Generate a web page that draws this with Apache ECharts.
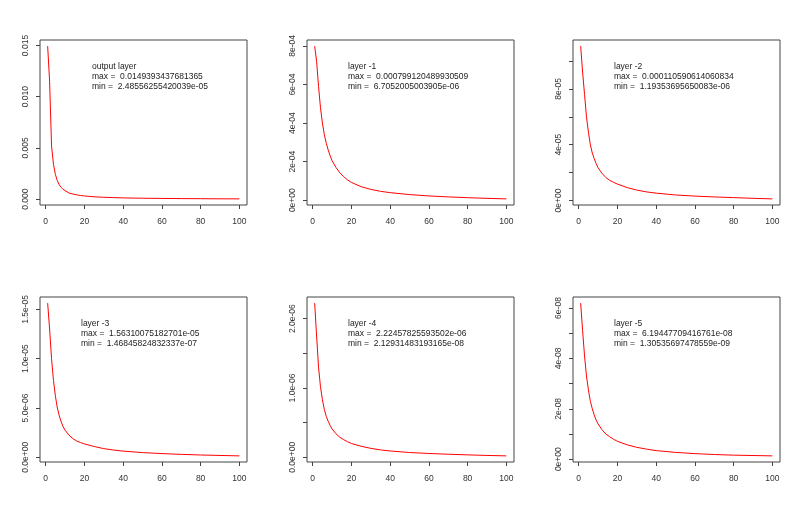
<!DOCTYPE html>
<html>
<head>
<meta charset="utf-8">
<script src="https://cdn.jsdelivr.net/npm/echarts@6/dist/echarts.min.js"></script>
<style>
  html, body { margin: 0; padding: 0; background: #fff; }
  #wrap { position: relative; width: 800px; height: 513px; }
  .panel { position: absolute; width: 267px; height: 257px; }
  #log { position: absolute; left: 0; top: 0; font: 9px monospace; color: #00f; width: 800px; }
</style>
</head>
<body>
<div id="wrap"></div>
<div id="log"></div>
<script>
// x positions of the read-off points (epochs 1..100)
var xs = [1, 2, 3, 4, 5, 6, 7, 8, 9, 10, 12, 14, 16, 18, 20, 25, 30, 35, 40, 50, 60, 70, 80, 90, 100]

var outputLayer = [0.0149393437681365, 0.0115, 0.0052, 0.0034, 0.0024, 0.0018, 0.0014, 0.00115, 0.00095, 0.0008,
  0.0006, 0.0005, 0.00042, 0.00036, 0.00031, 0.00023, 0.00018, 0.00015, 0.00012, 0.00009,
  0.00007, 0.000055, 0.000042, 0.000032, 2.48556255420039e-05]
var layer1 = [0.000799120489930509, 7.2e-4, 5.9e-4, 4.8e-4, 4.0e-4, 3.4e-4, 2.95e-4, 2.6e-4, 2.3e-4, 2.05e-4,
  1.7e-4, 1.42e-4, 1.22e-4, 1.05e-4, 9.2e-5, 7.0e-5, 5.6e-5, 4.6e-5, 3.9e-5, 2.9e-5,
  2.2e-5, 1.7e-5, 1.3e-5, 9.5e-6, 6.7052005003905e-06]
var layer2 = [0.000110590614060834, 9.2e-5, 7.6e-5, 6.0e-5, 4.9e-5, 4.0e-5, 3.4e-5, 3.0e-5, 2.65e-5, 2.35e-5,
  1.95e-5, 1.65e-5, 1.45e-5, 1.3e-5, 1.18e-5, 9.3e-6, 7.5e-6, 6.2e-6, 5.3e-6, 4.0e-6,
  3.2e-6, 2.6e-6, 2.1e-6, 1.6e-6, 1.19353695650083e-06]
var layer3 = [1.56310075182701e-05, 1.3e-5, 1.0e-5, 7.8e-6, 6.2e-6, 5.0e-6, 4.2e-6, 3.6e-6, 3.1e-6, 2.75e-6,
  2.25e-6, 1.9e-6, 1.65e-6, 1.5e-6, 1.36e-6, 1.1e-6, 8.8e-7, 7.4e-7, 6.3e-7, 4.8e-7,
  3.8e-7, 3.0e-7, 2.4e-7, 1.9e-7, 1.46845824832337e-07]
var layer4 = [2.22457825593502e-06, 1.75e-6, 1.3e-6, 1.02e-6, 8.3e-7, 6.9e-7, 5.9e-7, 5.2e-7, 4.6e-7, 4.1e-7,
  3.4e-7, 2.9e-7, 2.55e-7, 2.25e-7, 2.0e-7, 1.6e-7, 1.3e-7, 1.08e-7, 9.2e-8, 7.0e-8,
  5.6e-8, 4.5e-8, 3.6e-8, 2.8e-8, 2.12931483193165e-08]
var layer5 = [6.19447709416761e-08, 5.1e-8, 4.1e-8, 3.3e-8, 2.75e-8, 2.3e-8, 2.0e-8, 1.75e-8, 1.55e-8, 1.4e-8,
  1.17e-8, 1.0e-8, 8.9e-9, 7.9e-9, 7.1e-9, 5.7e-9, 4.7e-9, 4.0e-9, 3.4e-9, 2.7e-9,
  2.2e-9, 1.85e-9, 1.6e-9, 1.45e-9, 1.30535697478559e-09]

var panelNames = ['output layer', 'layer -1', 'layer -2', 'layer -3', 'layer -4', 'layer -5']
var maxTexts = ['0.0149393437681365', '0.000799120489930509', '0.000110590614060834',
  '1.56310075182701e-05', '2.22457825593502e-06', '6.19447709416761e-08']
var minTexts = ['2.48556255420039e-05', '6.7052005003905e-06', '1.19353695650083e-06',
  '1.46845824832337e-07', '2.12931483193165e-08', '1.30535697478559e-09']

// y axis: tick step, last tick, and the labels R kept
var yStep = [0.005, 2e-4, 2e-5, 5e-6, 5e-7, 1e-8]
var yTop = [0.015, 8e-4, 1e-4, 1.5e-5, 2e-6, 6e-8]
var yLabelValues = [
  [0, 0.005, 0.01, 0.015],
  [0, 2e-4, 4e-4, 6e-4, 8e-4],
  [0, 4e-5, 8e-5],
  [0, 5e-6, 1e-5, 1.5e-5],
  [0, 1e-6, 2e-6],
  [0, 2e-8, 4e-8, 6e-8]
]
var yLabelTexts = [
  ['0.000', '0.005', '0.010', '0.015'],
  ['0e+00', '2e-04', '4e-04', '6e-04', '8e-04'],
  ['0e+00', '4e-05', '8e-05'],
  ['0.0e+00', '5.0e-06', '1.0e-05', '1.5e-05'],
  ['0.0e+00', '1.0e-06', '2.0e-06'],
  ['0e+00', '2e-08', '4e-08', '6e-08']
]

var seriesData = [outputLayer, layer1, layer2, layer3, layer4, layer5]

var FONT = 'Liberation Sans, Arial, sans-serif'
var INK = '#333'
var BOX_L = 40
var BOX_T = 40
var BOX_W = 207
var BOX_H = 165
var logEl = document.getElementById('log')

// R-like axis padding: 4% of the data span on each side
var xlo = 1 - 0.04 * 99
var xhi = 100 + 0.04 * 99

function labelFor(vals, texts, tol) {
  return function (v) {
    for (var k = 0; k < vals.length; k++) {
      if (Math.abs(v - vals[k]) < tol) return texts[k]
    }
    return ''
  }
}

var tickStyle = { show: true, length: 4, lineStyle: { color: '#444' } }

function panelOption(i) {
  var vals = seriesData[i]
  var vmax = vals[0]
  var vmin = vals[vals.length - 1]
  var span = vmax - vmin
  var ylo = vmin - 0.04 * span
  var yhi = vmax + 0.04 * span

  // where the first/last ticks fall inside the data box
  var px0 = BOX_L + (0 - xlo) / (xhi - xlo) * BOX_W
  var px100 = BOX_L + (100 - xlo) / (xhi - xlo) * BOX_W
  var py0 = BOX_T + BOX_H - (0 - ylo) / (yhi - ylo) * BOX_H
  var pyTop = BOX_T + BOX_H - (yTop[i] - ylo) / (yhi - ylo) * BOX_H

  return {
    animation: false,
    grid: [
      // data box
      { left: BOX_L, top: BOX_T, width: BOX_W, height: BOX_H, show: true, borderColor: '#444', borderWidth: 1 },
      // x ticks: spans 0..100, bottom edge on the box
      { left: px0, top: BOX_T, width: px100 - px0, height: BOX_H },
      // y ticks: spans 0..last tick, left edge on the box
      { left: BOX_L, top: pyTop, width: BOX_W, height: py0 - pyTop }
    ],
    xAxis: [
      { type: 'value', gridIndex: 0, min: xlo, max: xhi, show: false },
      {
        type: 'value', gridIndex: 1, min: 0, max: 100, interval: 20,
        axisLine: { show: false },
        splitLine: { show: false },
        axisTick: tickStyle,
        axisLabel: { margin: 12, fontSize: 8.5, fontFamily: FONT, color: INK }
      },
      { type: 'value', gridIndex: 2, min: 0, max: 1, show: false }
    ],
    yAxis: [
      { type: 'value', gridIndex: 0, min: ylo, max: yhi, show: false },
      { type: 'value', gridIndex: 1, min: 0, max: 1, show: false },
      {
        type: 'value', gridIndex: 2, min: 0, max: yTop[i], interval: yStep[i],
        axisLine: { show: false },
        splitLine: { show: false },
        axisTick: tickStyle,
        axisLabel: {
          rotate: 90, align: 'center', verticalAlign: 'bottom',
          margin: 10, fontSize: 8.5, fontFamily: FONT, color: INK,
          formatter: labelFor(yLabelValues[i], yLabelTexts[i], yStep[i] * 1e-3)
        }
      }
    ],
    series: [{
      type: 'line', xAxisIndex: 0, yAxisIndex: 0,
      data: xs.map(function (x, k) { return [x, vals[k]] }),
      showSymbol: false,
      lineStyle: { color: '#ff0000', width: 1 }
    }],
    title: {
      text: panelNames[i] + '\nmax =  ' + maxTexts[i] + '\nmin =  ' + minTexts[i],
      left: BOX_L + (i === 0 ? 52 : 41), top: BOX_T + 22, padding: 0,
      textStyle: { fontSize: 8.5, fontWeight: 'normal', fontFamily: FONT, color: '#222', lineHeight: 10 }
    }
  }
}

// one instance per panel, like R's mfrow = c(2, 3)
for (var i = 0; i < 6; i++) {
  var div = document.createElement('div')
  div.className = 'panel'
  div.style.left = (266.67 * (i % 3)) + 'px'
  div.style.top = (256.5 * Math.floor(i / 3)) + 'px'
  document.getElementById('wrap').appendChild(div)
  try {
    echarts.init(div).setOption(panelOption(i))
  } catch (e) {
    logEl.innerHTML += 'p' + i + ' ERR ' + e.message + '<br>'
  }
}
</script>
</body>
</html>
